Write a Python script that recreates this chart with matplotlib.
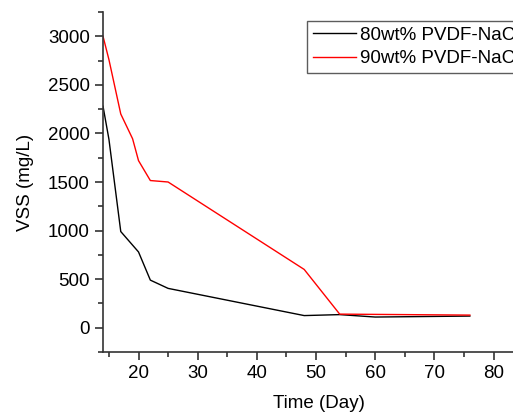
import matplotlib
matplotlib.use("Agg")
import matplotlib.pyplot as plt
from matplotlib.ticker import MultipleLocator

plt.rcParams['font.family'] = ['Liberation Sans', 'DejaVu Sans']

# VSS over time for the two membranes
day_80 = [14, 15, 17, 20, 22, 25, 48, 54, 60, 76]
vss_80 = [2280, 1940, 990, 780, 490, 405, 125, 135, 110, 120]

day_90 = [14, 15, 17, 19, 20, 22, 25, 48, 54, 76]
vss_90 = [3000, 2760, 2200, 1945, 1720, 1515, 1500, 600, 140, 130]

labels = ["80wt% PVDF-NaCl", "90wt% PVDF-NaCl"]

fs = 13.5

fig = plt.figure(figsize=(5.13, 4.12), dpi=100)
ax = fig.add_axes([0.2008, 0.1456, 0.842, 0.8253])

ax.plot(day_80, vss_80, color="black", lw=1.0, label=labels[0])
ax.plot(day_90, vss_90, color="red", lw=1.0, label=labels[1])

ax.set_xlim(14, 87)
ax.set_ylim(-250, 3250)
ax.xaxis.set_major_locator(MultipleLocator(10))
ax.xaxis.set_minor_locator(MultipleLocator(5))
ax.yaxis.set_major_locator(MultipleLocator(500))
ax.yaxis.set_minor_locator(MultipleLocator(250))

ax.spines['top'].set_visible(False)
ax.spines['right'].set_visible(False)
for s in ['left', 'bottom']:
    ax.spines[s].set_linewidth(1.2)
    ax.spines[s].set_color("#333333")
ax.tick_params(which='major', direction='out', length=6, width=1.2, labelsize=fs, colors="#333333", labelcolor="black")
ax.tick_params(which='minor', direction='out', length=3.5, width=1.2, colors="#333333")

ax.set_xlabel("Time (Day)", fontsize=fs, labelpad=9)
ax.set_ylabel("VSS (mg/L)", fontsize=fs, labelpad=10)

leg = ax.legend(loc='upper left', bbox_to_anchor=(307 / 513, 1 - 21 / 412),
                bbox_transform=fig.transFigure, fontsize=fs, frameon=True,
                fancybox=False, edgecolor="#333333", handlelength=2.3,
                handletextpad=0.25, borderpad=0.3, borderaxespad=0,
                labelspacing=0.35)
leg.get_frame().set_linewidth(1.0)
leg._legend_box.sep = 0

fig.savefig("out.png", dpi=100)
